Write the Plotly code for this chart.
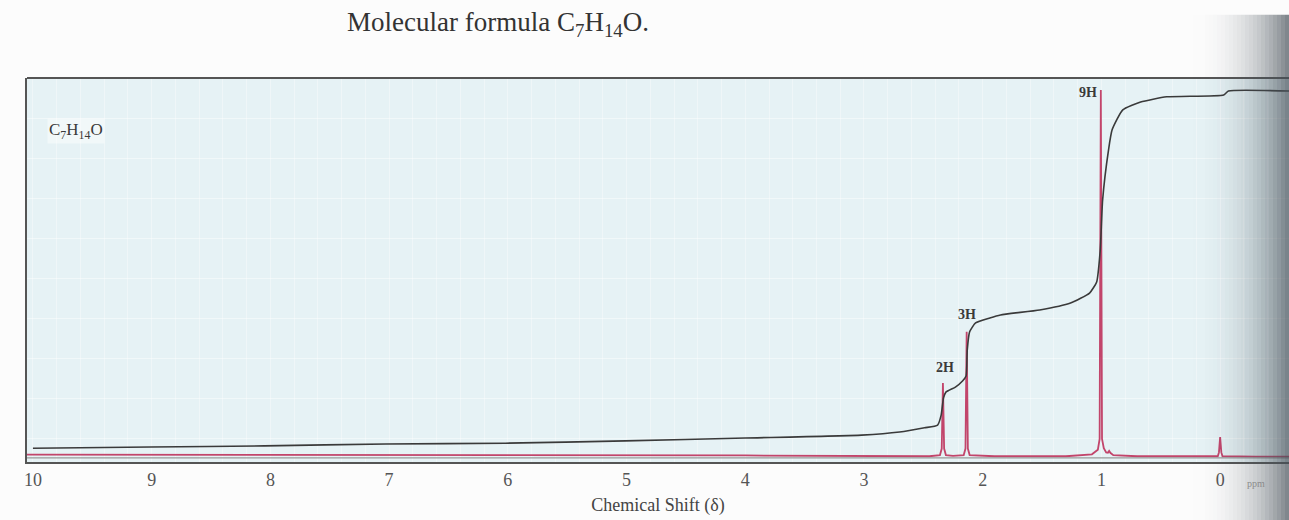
import plotly.graph_objects as go

# ---------------- data ----------------
# 1H NMR spectrum trace: chemical shift (ppm) vs. relative intensity (0-100)
spec_ppm = [10.05, 8.0, 6.0, 4.0, 3.0, 2.45, 2.36, 2.345, 2.335, 2.325, 2.31,
            2.25, 2.16, 2.145, 2.135, 2.125, 2.11, 1.9, 1.3, 1.08, 1.03, 1.015,
            1.005, 0.995, 0.98, 0.96, 0.945, 0.935, 0.925, 0.9, 0.7, 0.3, 0.02,
            0.01, 0.0, -0.01, -0.02, -0.3, -0.58]
spec_int = [1.9, 1.9, 1.8, 1.7, 1.6, 1.5, 1.8, 3.5, 20.6, 3.5, 1.8,
            1.6, 1.8, 3.5, 33.9, 3.5, 1.8, 1.5, 1.5, 2.0, 3.2, 6.0,
            96.9, 6.0, 3.6, 2.5, 2.4, 2.9, 2.4, 1.8, 1.5, 1.4, 1.5,
            2.5, 6.5, 2.5, 1.5, 1.4, 1.4]

# Integration curve
integ_ppm = [10.0, 9.01, 8.05, 7.03, 6.02, 5.01, 4.0, 3.02, 2.70, 2.49, 2.38,
             2.35, 2.33, 2.31, 2.23, 2.17, 2.14, 2.13, 2.11, 2.06, 1.94, 1.85,
             1.52, 1.26, 1.10, 1.04, 1.01, 0.99, 0.94, 0.91, 0.82, 0.67, 0.45,
             -0.03, -0.07, -0.58]
integ_val = [3.6, 3.9, 4.2, 4.7, 4.9, 5.5, 6.25, 7.0, 7.8, 8.9, 9.6,
             12.2, 16.7, 18.2, 19.5, 21.1, 22.4, 29.2, 33.9, 36.2, 37.5, 38.3,
             39.6, 41.4, 44.0, 46.9, 55.2, 68.2, 81.3, 86.5, 91.7, 93.75, 95.1,
             95.6, 96.6, 96.6]

# Integration step labels
step_labels = ["2H", "3H", "9H"]
step_ppm = [2.32, 2.13, 1.11]
step_val = [24.5, 38.3, 96.1]

tick_vals = [10, 9, 8, 7, 6, 5, 4, 3, 2, 1, 0]
tick_text = ["10", "9", "8", "7", "6", "5", "4", "3", "2", "1", "0"]

SERIF = "Liberation Serif, DejaVu Serif, serif"

fig = go.Figure()
fig.add_trace(go.Scatter(x=spec_ppm, y=spec_int, mode="lines",
                         line=dict(color="#c2456b", width=1.8),
                         hoverinfo="skip", showlegend=False))
fig.add_trace(go.Scatter(x=integ_ppm, y=integ_val, mode="lines",
                         line=dict(color="#3a3a3a", width=1.6, shape="spline", smoothing=0.5),
                         hoverinfo="skip", showlegend=False))

annotations = []
for lab, xp, yv in zip(step_labels, step_ppm, step_val):
    annotations.append(dict(x=xp, y=yv, xref="x", yref="y", text="<b>" + lab + "</b>",
                            showarrow=False, xanchor="center", yanchor="middle",
                            font=dict(family=SERIF, size=14, color="#3a3a3a")))
annotations.append(dict(x=0.3735, y=1.141, xref="paper", yref="paper",
                        xanchor="center", yanchor="middle",
                        text="Molecular formula C<sub>7</sub>H<sub>14</sub>O.",
                        showarrow=False, font=dict(family=SERIF, size=27, color="#333")))
annotations.append(dict(x=0.039, y=0.862, xref="paper", yref="paper",
                        xanchor="center", yanchor="middle",
                        text="C<sub>7</sub>H<sub>14</sub>O", showarrow=False,
                        bgcolor="rgba(255,255,255,0.45)",
                        font=dict(family=SERIF, size=17, color="#3a3a3a")))
annotations.append(dict(x=0.974, y=-0.055, xref="paper", yref="paper",
                        xanchor="center", yanchor="middle",
                        text="ppm", showarrow=False,
                        font=dict(family=SERIF, size=10, color="#8a8a8a")))

shapes = []
# inner gray line just above the bottom axis
shapes.append(dict(type="line", xref="paper", yref="paper", x0=0, x1=1, y0=0.011, y1=0.011,
                   line=dict(color="#9a9a9a", width=1.2)))
# top border
shapes.append(dict(type="line", xref="paper", yref="paper", x0=0, x1=1, y0=1, y1=1,
                   line=dict(color="#555", width=2)))
# page-curl shadow at the right edge (strips of increasing darkness)
x_start, x_end, n = 1185, 1289, 26
for i in range(n):
    a = x_start + (x_end - x_start) * i / n
    b = x_start + (x_end - x_start) * (i + 1) / n
    op = 0.68 * ((i + 1) / n) ** 2.6
    shapes.append(dict(type="rect", xref="paper", yref="paper",
                       x0=(a - 27) / 1262, x1=(b - 27) / 1262, y0=-0.16, y1=1.165,
                       fillcolor="rgb(70,80,88)", opacity=op, line=dict(width=0),
                       layer="above"))

fig.update_layout(
    width=1289, height=520,
    margin=dict(l=27, r=0, t=78, b=58),
    paper_bgcolor="#fcfcfc",
    plot_bgcolor="#e6f2f5",
    showlegend=False,
    annotations=annotations,
    shapes=shapes,
    xaxis=dict(range=[10.05, -0.58], tickmode="array", tickvals=tick_vals, ticktext=tick_text,
               showgrid=False, zeroline=False, showline=True, linecolor="#555", linewidth=2,
               ticks="", tickfont=dict(family=SERIF, size=18, color="#555"),
               ticklabelstandoff=0,
               title=dict(text="Chemical Shift (δ)", font=dict(family=SERIF, size=18, color="#444"),
                          standoff=10),
               minor=dict(dtick=0.2, tick0=0, showgrid=True, gridcolor="rgba(255,255,255,0.35)",
                          gridwidth=1)),
    yaxis=dict(range=[0, 100], showticklabels=False, ticks="", zeroline=False,
               showline=True, linecolor="#555", linewidth=2,
               tick0=6.25, dtick=10.4167, showgrid=True,
               gridcolor="rgba(255,255,255,0.45)", gridwidth=1.2),
)

fig.write_html("out.html")
